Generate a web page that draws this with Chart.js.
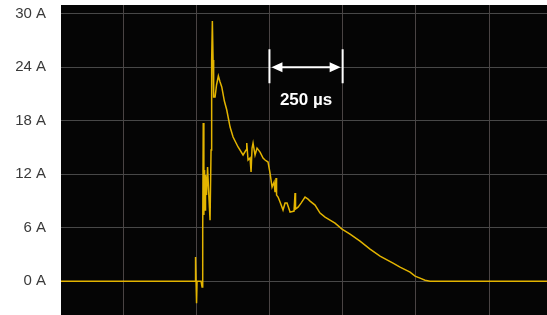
<!DOCTYPE html>
<html>
<head>
<meta charset="utf-8">
<script src="https://cdn.jsdelivr.net/npm/chart.js@4/dist/chart.umd.min.js"></script>
<style>
  html, body { margin: 0; padding: 0; background: #fff; }
  #wrap { width: 547px; height: 315px; }
</style>
</head>
<body>
<div id="wrap"><canvas id="current_chart"></canvas></div>
<script>
// time in microseconds (0 = first vertical grid line), current in amperes
var timeUs = [-212, 246, 247.6, 251, 252.7, 266.4, 269.8, 271.5, 272.6, 273.9,
    276, 278.3, 280, 281.7, 285.2, 288.6, 293.7, 297.1, 300.5, 302.6,
    305, 307.4, 309.4, 314.2, 319.3, 325.5, 331.3, 337.1, 346, 354.2,
    365.5, 375.7, 392.8, 409.8, 420.1, 422.5, 426.9, 433.7, 437.2, 440.6,
    444, 450.8, 457.6, 467.9, 478.1, 484.9, 495.2, 502, 508.9, 515.7,
    519.1, 522.5, 524.3, 529.4, 536.2, 546.4, 553.3, 560.1, 570.4, 584,
    587.4, 589.1, 597.7, 607.9, 621.6, 631.8, 638.7, 655.7, 672.8, 689.9,
    706.9, 724, 747.9, 775.3, 809.4, 843.6, 877.7, 922.1, 946, 980.2,
    997.3, 1014.3, 1031.4, 1048.5, 1082.6, 1448];
var currentA = [0, 0, 2.7, -2.47, 0, 0, -0.67, 0, 5.73, 17.75,
    7.42, 12.47, 7.98, 11.91, 9.66, 12.81, 9.1, 6.85, 14.72, 24.83,
    29.21, 24.83, 20.67, 20.67, 22.02, 23.03, 22.36, 21.8, 20.22, 19.21,
    17.3, 16.18, 15.06, 14.16, 14.72, 15.5, 13.6, 13.82, 12.25, 14.94,
    15.5, 14.16, 14.94, 14.49, 13.82, 13.6, 13.37, 12.13, 10.56, 11.12,
    10, 11.57, 9.66, 9.44, 8.88, 7.98, 8.76, 8.76, 7.75, 7.87,
    9.89, 8.09, 8.31, 8.76, 9.44, 9.21, 8.99, 8.54, 7.64, 7.19,
    6.85, 6.52, 5.84, 5.28, 4.49, 3.6, 2.81, 2.02, 1.57, 1.01,
    0.56, 0.34, 0.11, 0, 0, 0];
var yTicks = [0, 6, 12, 18, 24, 30];
var xGridUs = [0, 250, 500, 750, 1000, 1250];
var scaleBarFrom = 500, scaleBarTo = 750, scaleBarLevel = 24, scaleBarLabelLevel = 19.8;
var scaleBarLabel = '250 µs';

var points = timeUs.map(function (t, i) { return { x: t, y: currentA[i] }; });

var blackArea = {
    id: 'blackArea',
    beforeDraw: function (chart) {
        var a = chart.chartArea, ctx = chart.ctx;
        ctx.save();
        ctx.fillStyle = '#050505';
        ctx.fillRect(a.left, a.top, a.right - a.left, a.bottom - a.top);
        ctx.restore();
    }
};

var scaleBar = {
    id: 'scaleBar',
    afterDatasetsDraw: function (chart) {
        var ctx = chart.ctx, xs = chart.scales.x, ys = chart.scales.y;
        var x1 = xs.getPixelForValue(scaleBarFrom), x2 = xs.getPixelForValue(scaleBarTo);
        var y = ys.getPixelForValue(scaleBarLevel);
        ctx.save();
        ctx.strokeStyle = '#fff';
        ctx.fillStyle = '#fff';
        ctx.lineWidth = 2;
        ctx.beginPath();
        ctx.moveTo(x1, y - 18); ctx.lineTo(x1, y + 16);
        ctx.moveTo(x2, y - 18); ctx.lineTo(x2, y + 16);
        ctx.moveTo(x1 + 8, y); ctx.lineTo(x2 - 8, y);
        ctx.stroke();
        ctx.beginPath();
        ctx.moveTo(x1 + 2, y); ctx.lineTo(x1 + 13, y - 5); ctx.lineTo(x1 + 13, y + 5); ctx.closePath();
        ctx.moveTo(x2 - 2, y); ctx.lineTo(x2 - 13, y - 5); ctx.lineTo(x2 - 13, y + 5); ctx.closePath();
        ctx.fill();
        ctx.font = 'bold 17px "Liberation Sans", Arial, sans-serif';
        ctx.textAlign = 'center';
        ctx.textBaseline = 'alphabetic';
        ctx.fillText(scaleBarLabel, (x1 + x2) / 2, ys.getPixelForValue(scaleBarLabelLevel));
        ctx.restore();
    }
};

var context = document.getElementById('current_chart').getContext('2d');
var currentChart = new Chart(context, {
    type: 'line',
    data: {
        datasets: [{
            data: points,
            borderColor: '#e3b400',
            borderWidth: 1.5,
            pointRadius: 0,
            tension: 0,
            fill: false
        }]
    },
    options: {
        responsive: true,
        maintainAspectRatio: false,
        animation: false,
        layout: { padding: { top: 5, right: 0, bottom: 0, left: 0 } },
        plugins: { legend: { display: false }, tooltip: { enabled: false } },
        scales: {
            x: {
                type: 'linear',
                min: -212,
                max: 1448,
                border: { display: false },
                grid: { color: '#4a4444', lineWidth: 1, drawTicks: false },
                ticks: { display: false },
                afterBuildTicks: function (scale) {
                    scale.ticks = xGridUs.map(function (v) { return { value: v }; });
                },
                afterFit: function (scale) {
                    scale.height = 0;
                    scale.paddingLeft = 0; scale.paddingRight = 0;
                }
            },
            y: {
                min: -3.8,
                max: 31,
                border: { display: false },
                grid: { color: '#484848', lineWidth: 1, drawTicks: false },
                ticks: {
                    padding: 15,
                    color: '#3a3a3a',
                    font: { family: '"Liberation Sans", Arial, sans-serif', size: 15 },
                    callback: function (v) { return v + ' A'; }
                },
                afterBuildTicks: function (scale) {
                    scale.ticks = yTicks.map(function (v) { return { value: v }; });
                },
                afterFit: function (scale) {
                    scale.width = 61;
                    scale.paddingTop = 0; scale.paddingBottom = 0;
                }
            }
        }
    },
    plugins: [blackArea, scaleBar]
});
</script>
</body>
</html>
